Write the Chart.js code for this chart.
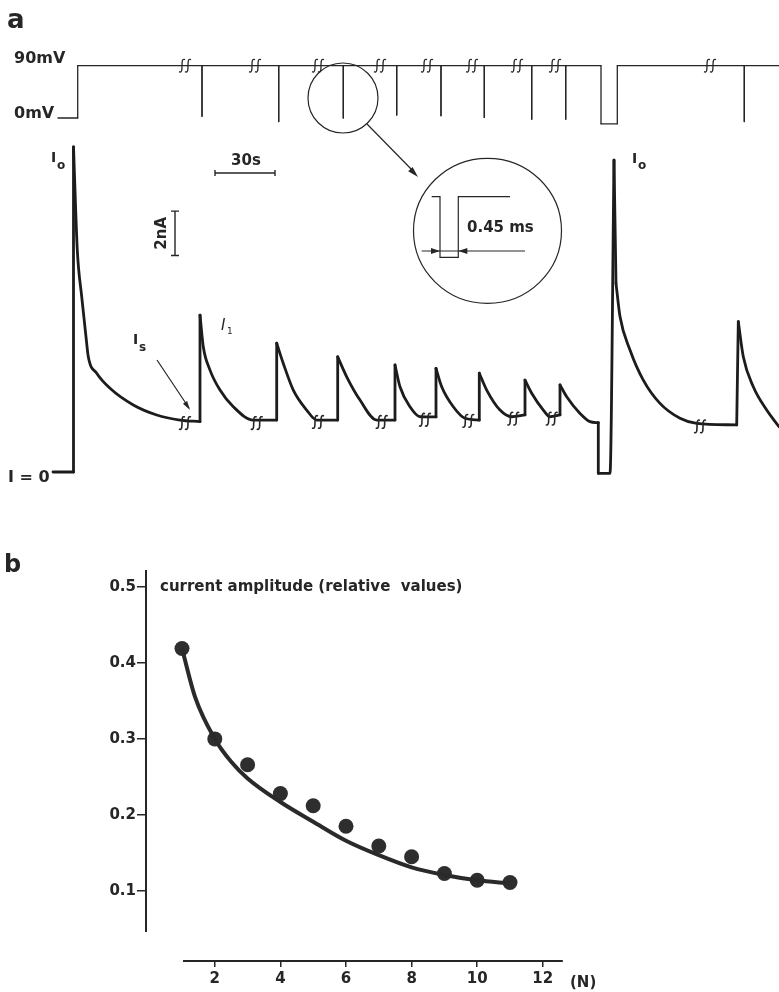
<!DOCTYPE html>
<html><head><meta charset="utf-8">
<script src="https://cdn.jsdelivr.net/npm/chart.js@4.4.1/dist/chart.umd.min.js"></script>
<style>
html,body{margin:0;padding:0;background:#fff;}
#wrap{position:relative;width:779px;height:992px;background:#fff;}
canvas{position:absolute;left:0;top:0;}
</style></head><body>
<div id="wrap"><canvas id="ca" width="779" height="992"></canvas><canvas id="cb" width="779" height="992"></canvas></div>
<script>
// ---------- Panel a : voltage protocol (time in s, voltage in mV) ----------
const voltTime = [-7.75, 2.1, 2.1, 64.25, 64.25, 64.25, 102.6, 102.6, 102.6, 134.9, 134.9, 134.9,
  161.6, 161.6, 161.6, 183.75, 183.75, 183.75, 205.4, 205.4, 205.4, 229.1, 229.1, 229.1,
  246.1, 246.1, 246.1, 263.75, 263.75, 271.9, 271.9, 335.4, 335.4, 335.4, 352.75];
const voltMv = [0, 0, 90, 90, 3, 90, 90, -6, 90, 90, 0, 90,
  90, 5, 90, 90, 4, 90, 90, 1, 90, 90, -2, 90,
  90, -2, 90, 90, -10, -10, 90, 90, -6, 90, 90];
// ---------- Panel a : membrane current (time in s, current in nA) ----------
const currTime = [-10.25, 0, 0, 1.9, 4.1, 6.25, 7.4, 11.6, 18.25, 29.9, 41.6, 53.25, 63.25,
  63.25, 64.9, 68.25, 73.25, 79.9, 89.9, 101.6,
  101.6, 104.9, 109.9, 116.6, 121.6, 132.1,
  132.1, 136.6, 143.25, 151.6, 160.75,
  160.75, 163.25, 168.25, 173.25, 181.25,
  181.25, 184.1, 189.9, 195.75, 202.9,
  202.9, 206.6, 213.25, 219.1, 225.75,
  225.75, 229.1, 234.9, 238.25, 243.25,
  243.25, 246.6, 253.25, 258.25, 262.4,
  262.4, 268.25,
  270.25, 271.25, 273.25, 278.25, 284.9, 293.25, 303.25, 311.6, 331.6,
  332.4, 334.9, 339.9, 346.6, 352.75];
const currNa = [0, 0, 14.64, 10.0, 7.9, 6.09, 5.19, 4.45, 3.77, 3.02, 2.57, 2.34, 2.27,
  7.07, 5.64, 4.59, 3.69, 2.94, 2.34, 2.34,
  5.8, 4.89, 3.69, 2.79, 2.34, 2.34,
  5.19, 4.29, 3.24, 2.34, 2.34,
  4.82, 3.84, 2.94, 2.49, 2.48,
  4.67, 3.84, 2.94, 2.42, 2.34,
  4.45, 3.69, 2.79, 2.49, 2.57,
  4.14, 3.55, 2.79, 2.49, 2.57,
  3.92, 3.39, 2.64, 2.27, 2.22,
  -0.06, -0.06,
  14.05, 8.5, 7.0, 5.5, 4.14, 3.09, 2.42, 2.19, 2.12,
  6.77, 5.19, 3.84, 2.79, 2.04];
// time-axis breaks
const breakTimesV = [55.75, 90.75, 122.25, 153.25, 176.75, 199.25, 221.75, 240.75, 318.25];
const breakTimesI = [55.75, 91.6, 122.25, 154.1, 175.75, 197.4, 219.9, 239.1, 313.25];
const breakCurrI  = [2.25, 2.25, 2.3, 2.3, 2.4, 2.35, 2.45, 2.45, 2.1];

// ---------- Panel b ----------
const pulseN = [1, 2, 3, 4, 5, 6, 7, 8, 9, 10, 11];
const amplitude = [0.419, 0.300, 0.266, 0.228, 0.212, 0.185, 0.159, 0.145, 0.123, 0.114, 0.111];
const fitN = [1, 1.4, 2, 2.5, 3, 4, 5, 6, 7, 8, 9, 10, 11];
const fitAmp = [0.419, 0.355, 0.300, 0.270, 0.248, 0.217, 0.191, 0.166, 0.147, 0.131, 0.121, 0.114, 0.110];
const yTickVals = [0.1, 0.2, 0.3, 0.4, 0.5];
const xTickVals = [2, 4, 6, 8, 10, 12];

const INK = '#262626';
const FONT = '"DejaVu Sans", sans-serif';

function xy(xs, ys) { return xs.map((x, i) => ({ x: x, y: ys[i] })); }

// split a trace into smooth runs (strictly increasing time) and straight steps
function traceDatasets(ts, ys, axis, color, width) {
  const out = [];
  let run = [{ x: ts[0], y: ys[0] }];
  const push = (pts, smooth) => {
    if (pts.length < 2) return;
    out.push({ data: pts, yAxisID: axis, borderColor: color, borderWidth: width, pointRadius: 0,
      fill: false, tension: 0, cubicInterpolationMode: smooth ? 'monotone' : 'default',
      borderJoinStyle: 'round', borderCapStyle: 'round' });
  };
  for (let i = 1; i < ts.length; i++) {
    if (ts[i] <= ts[i - 1] + 1.01) {
      // steep step: close current run, draw step straight
      push(run, true);
      push([{ x: ts[i - 1], y: ys[i - 1] }, { x: ts[i], y: ys[i] }], false);
      run = [{ x: ts[i], y: ys[i] }];
    } else {
      run.push({ x: ts[i], y: ys[i] });
    }
  }
  push(run, true);
  return out;
}

function arrowHead(ctx, x1, y1, x2, y2, len, half) {
  const a = Math.atan2(y2 - y1, x2 - x1);
  ctx.beginPath();
  ctx.moveTo(x2, y2);
  ctx.lineTo(x2 - len * Math.cos(a) + half * Math.sin(a), y2 - len * Math.sin(a) - half * Math.cos(a));
  ctx.lineTo(x2 - len * Math.cos(a) - half * Math.sin(a), y2 - len * Math.sin(a) + half * Math.cos(a));
  ctx.closePath();
  ctx.fill();
}
function breakMark(ctx, x, y, lw) {
  ctx.save();
  ctx.lineWidth = lw;
  [-3, 3].forEach(k => {
    ctx.beginPath();
    ctx.moveTo(x + k + 3, y - 6);
    ctx.bezierCurveTo(x + k - 3, y - 9, x + k + 3, y + 9, x + k - 3, y + 6);
    ctx.stroke();
  });
  ctx.restore();
}
function txt(ctx, s, x, y, size, weight, style) {
  ctx.font = (style || '') + ' ' + (weight || 'normal') + ' ' + size + 'px ' + FONT;
  ctx.fillText(s, x, y);
}

const annotA = {
  id: 'annotA',
  afterDatasetsDraw(chart) {
    const ctx = chart.ctx, X = chart.scales.x, YI = chart.scales.yI, YV = chart.scales.yV;
    ctx.save();
    ctx.fillStyle = INK; ctx.strokeStyle = INK;
    ctx.textBaseline = 'alphabetic';
    txt(ctx, 'a', 7, 28, 26, 'bold');
    txt(ctx, '90mV', 14, 63, 16, 'bold');
    txt(ctx, '0mV', 14, 118, 16, 'bold');
    txt(ctx, 'I = 0', 8, 482, 16, 'bold');
    breakTimesV.forEach(t => breakMark(ctx, X.getPixelForValue(t), YV.getPixelForValue(90), 1.3));
    breakTimesI.forEach((t, i) => breakMark(ctx, X.getPixelForValue(t), YI.getPixelForValue(breakCurrI[i]) + 1, 1.6));
    txt(ctx, 'I', 51, 162, 14, 'bold'); txt(ctx, 'o', 57, 169, 12, 'bold');
    txt(ctx, 'I', 632, 163, 14, 'bold'); txt(ctx, 'o', 638, 169, 12, 'bold');
    txt(ctx, 'I', 133, 344, 14, 'bold'); txt(ctx, 's', 139, 351, 12, 'bold');
    ctx.lineWidth = 1.2;
    ctx.beginPath(); ctx.moveTo(157, 360); ctx.lineTo(189, 408); ctx.stroke();
    arrowHead(ctx, 157, 360, 190, 410, 9, 2.5);
    txt(ctx, 'I', 221, 330, 15, 'normal', 'italic'); txt(ctx, '1', 227, 334, 9, 'normal');
    const sx0 = X.getPixelForValue(70.75), sx1 = X.getPixelForValue(100.75), sy = 173;
    ctx.lineWidth = 1.4;
    ctx.beginPath(); ctx.moveTo(sx0, sy); ctx.lineTo(sx1, sy);
    ctx.moveTo(sx0, sy - 3); ctx.lineTo(sx0, sy + 3); ctx.moveTo(sx1, sy - 3); ctx.lineTo(sx1, sy + 3); ctx.stroke();
    ctx.textAlign = 'center';
    txt(ctx, '30s', (sx0 + sx1) / 2 + 1, 165, 15, 'bold');
    const bx = X.getPixelForValue(50.75), by0 = YI.getPixelForValue(9.75), by1 = YI.getPixelForValue(11.75);
    ctx.beginPath(); ctx.moveTo(bx, by0); ctx.lineTo(bx, by1);
    ctx.moveTo(bx - 4, by0); ctx.lineTo(bx + 4, by0); ctx.moveTo(bx - 4, by1); ctx.lineTo(bx + 4, by1); ctx.stroke();
    ctx.save(); ctx.translate(166, (by0 + by1) / 2); ctx.rotate(-Math.PI / 2);
    txt(ctx, '2nA', 0, 0, 15, 'bold'); ctx.restore();
    ctx.textAlign = 'left';
    ctx.lineWidth = 1.2;
    ctx.beginPath(); ctx.arc(343, 98, 35, 0, Math.PI * 2); ctx.stroke();
    ctx.beginPath(); ctx.moveTo(367, 124); ctx.lineTo(415, 173); ctx.stroke();
    arrowHead(ctx, 367, 124, 418, 177, 11, 3);
    ctx.beginPath(); ctx.ellipse(487.5, 230.8, 74, 72.5, 0, 0, Math.PI * 2); ctx.stroke();
    ctx.beginPath();
    ctx.moveTo(431.7, 196.7); ctx.lineTo(440, 196.7); ctx.lineTo(440, 257.3); ctx.lineTo(458.3, 257.3);
    ctx.lineTo(458.3, 196.7); ctx.lineTo(510, 196.7); ctx.stroke();
    ctx.beginPath(); ctx.moveTo(421.7, 251); ctx.lineTo(525, 251); ctx.stroke();
    arrowHead(ctx, 425, 251, 440, 251, 9, 3);
    arrowHead(ctx, 475, 251, 458.3, 251, 9, 3);
    txt(ctx, '0.45 ms', 467, 232, 15, 'bold');
    ctx.restore();
  }
};

const dsA = [].concat(
  traceDatasets(voltTime, voltMv, 'yV', INK, 1.3).map(d => Object.assign(d, { cubicInterpolationMode: 'default' })),
  traceDatasets(currTime, currNa, 'yI', '#1c1c1c', 2.8)
);

new Chart(document.getElementById('ca'), {
  type: 'line',
  data: { datasets: dsA },
  options: {
    responsive: false, animation: false, events: [],
    layout: { padding: 0 },
    plugins: { legend: { display: false }, tooltip: { enabled: false } },
    scales: {
      x: { type: 'linear', min: -36.75, max: 352.75, display: false },
      yI: { type: 'linear', min: -23.42, max: 21.26, display: false },
      yV: { type: 'linear', min: -1504.0, max: 203.06, display: false }
    }
  },
  plugins: [annotA]
});

const annotB = {
  id: 'annotB',
  afterDraw(chart) {
    const ctx = chart.ctx, X = chart.scales.x, Y = chart.scales.y, ca = chart.chartArea;
    ctx.save();
    ctx.fillStyle = INK; ctx.strokeStyle = INK;
    txt(ctx, 'b', 4, 572, 24, 'bold');
    ctx.lineWidth = 2;
    ctx.beginPath(); ctx.moveTo(ca.left, ca.top); ctx.lineTo(ca.left, Y.getPixelForValue(0.046)); ctx.stroke();
    ctx.beginPath(); ctx.moveTo(X.getPixelForValue(1.03), ca.bottom); ctx.lineTo(X.getPixelForValue(12.61), ca.bottom); ctx.stroke();
    txt(ctx, 'current amplitude (relative  values)', 160, 591, 15, 'bold');
    txt(ctx, '(N)', 570, 987, 15, 'bold');
    ctx.restore();
  }
};

new Chart(document.getElementById('cb'), {
  type: 'scatter',
  data: {
    datasets: [
      { type: 'line', label: 'fit', data: xy(fitN, fitAmp), borderColor: '#2a2a2a', borderWidth: 4,
        pointRadius: 0, cubicInterpolationMode: 'monotone', fill: false },
      { label: 'amplitude', data: xy(pulseN, amplitude), backgroundColor: '#2e2e2e', borderColor: '#2e2e2e',
        pointRadius: 7.5, borderWidth: 0 }
    ]
  },
  options: {
    responsive: false, animation: false, events: [],
    layout: { padding: { left: 0, top: 570, right: 179, bottom: 0 } },
    plugins: { legend: { display: false }, tooltip: { enabled: false } },
    scales: {
      x: {
        type: 'linear', min: -0.0976, max: 13.744,
        border: { display: false },
        grid: { display: true, drawOnChartArea: false, drawTicks: true, tickLength: 6, color: INK, lineWidth: 1.5 },
        ticks: { autoSkip: false, color: INK, padding: 3, font: { family: FONT, size: 15, weight: 'bold' } },
        afterBuildTicks: s => { s.ticks = xTickVals.map(v => ({ value: v })); },
        afterFit: s => { s.height = 31; }
      },
      y: {
        type: 'linear', min: 0.0078, max: 0.5222,
        border: { display: false },
        grid: { display: true, drawOnChartArea: false, drawTicks: true, tickLength: 9, color: INK, lineWidth: 1.5 },
        ticks: { autoSkip: false, color: INK, padding: 1, font: { family: FONT, size: 15, weight: 'bold' },
          callback: v => v.toFixed(1) },
        afterBuildTicks: s => { s.ticks = yTickVals.map(v => ({ value: v })); },
        afterFit: s => { s.width = 146; }
      }
    }
  },
  plugins: [annotB]
});
</script>
</body></html>
